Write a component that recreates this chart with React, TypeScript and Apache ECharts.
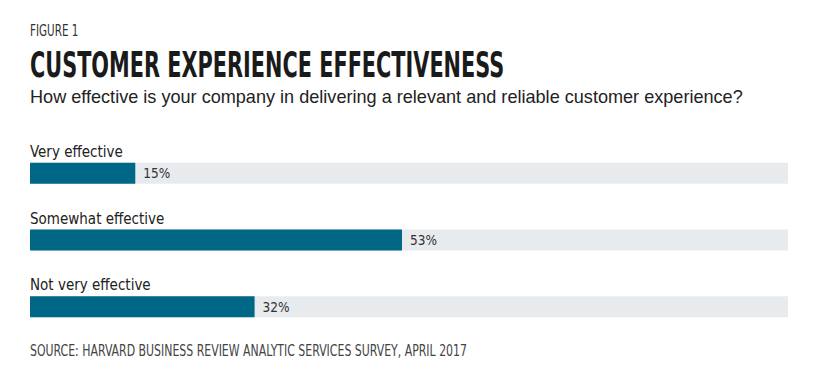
import React, { useEffect, useRef } from "react";
import * as echarts from "echarts";

const categories = ["Very effective", "Somewhat effective", "Not very effective"];
const values = [15, 53, 32];
const axisMax = 108;

const figureLabel = "FIGURE 1";
const titleText = "CUSTOMER EXPERIENCE EFFECTIVENESS";
const subtitleText =
  "How effective is your company in delivering a relevant and reliable customer experience?";
const sourceText = "SOURCE: HARVARD BUSINESS REVIEW ANALYTIC SERVICES SURVEY, APRIL 2017";

const NARROW = '"Liberation Sans Narrow", "DejaVu Sans Condensed", sans-serif';

export default function App() {
  const ref = useRef<HTMLDivElement>(null);
  useEffect(() => {
    if (!ref.current) return;
    const chart = echarts.init(ref.current, undefined, { renderer: "svg" });
    chart.setOption({
      animation: false,
      backgroundColor: "#ffffff",
      graphic: [
        {
          type: "text",
          x: 30,
          y: 22,
          scaleX: 0.7,
          style: {
            text: figureLabel,
            fontFamily: NARROW,
            fontSize: 16.5,
            fill: "#333333",
            verticalAlign: "top",
          },
        },
        {
          type: "text",
          x: 30,
          y: 46,
          scaleX: 0.643,
          style: {
            text: titleText,
            fontFamily: NARROW,
            fontSize: 36,
            fontWeight: "bold",
            fill: "#1a1a1a",
            verticalAlign: "top",
          },
        },
        {
          type: "text",
          x: 30,
          y: 88,
          style: {
            text: subtitleText,
            fontFamily: '"Liberation Sans", Arial, sans-serif',
            fontSize: 18.1,
            fill: "#222222",
            verticalAlign: "top",
          },
        },
        {
          type: "text",
          x: 30,
          y: 342,
          scaleX: 0.76,
          style: {
            text: sourceText,
            fontFamily: NARROW,
            fontSize: 16,
            fill: "#444444",
            verticalAlign: "top",
          },
        },
      ],
      grid: { left: 30, width: 758, top: 140, height: 200, containLabel: false },
      xAxis: {
        type: "value",
        min: 0,
        max: axisMax,
        show: false,
      },
      yAxis: {
        type: "category",
        inverse: true,
        data: categories,
        axisLine: { show: false },
        axisTick: { show: false },
        splitLine: { show: false },
        axisLabel: {
          inside: true,
          margin: 0,
          verticalAlign: "bottom",
          padding: [0, 0, 14, 0],
          fontFamily: NARROW,
          fontSize: 15,
          color: "#222222",
        },
        z: 5,
      },
      series: [
        {
          type: "bar",
          data: values,
          barWidth: 21,
          itemStyle: { color: "#006786" },
          showBackground: true,
          backgroundStyle: { color: "#e8ebee" },
          label: {
            show: true,
            position: "right",
            distance: 8,
            formatter: "{c}%",
            fontFamily: NARROW,
            fontSize: 13.5,
            color: "#333333",
          },
        },
      ],
    });
    return () => chart.dispose();
  }, []);
  return (
    <div
      ref={ref}
      style={{ position: "absolute", left: 0, top: 0, width: 820, height: 385 }}
    />
  );
}
